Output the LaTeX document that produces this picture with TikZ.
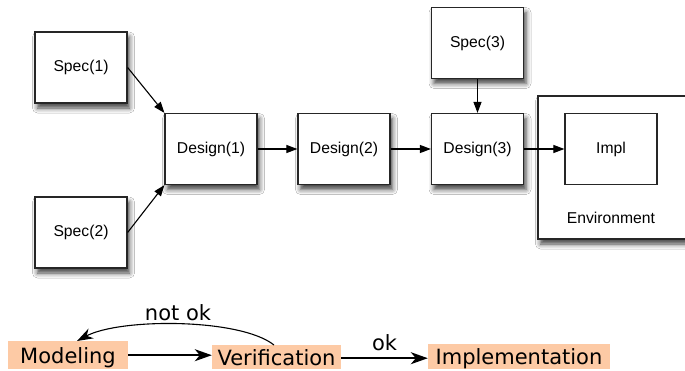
\documentclass[tikz,border=0pt]{standalone}
\usepackage{fontspec}
\setmainfont{Liberation Sans}
\newfontfamily\djv{DejaVu Sans}
\usetikzlibrary{arrows.meta,shadows.blur}
\definecolor{peach}{RGB}{253,202,165}
\tikzset{
  plainbox/.style={draw=black!85, line width=1.2pt, fill=white, minimum width=92pt, minimum height=71pt, inner sep=0pt,
    font=\fontsize{15.7}{18}\selectfont},
  box/.style={plainbox,
    blur shadow={shadow xshift=2.5pt, shadow yshift=-5pt, shadow blur radius=5pt, shadow opacity=75}},
  flow/.style={line width=1.1pt, -{Triangle[length=11pt,width=8pt]}},
  phase/.style={fill=peach, inner sep=0pt, text height=16pt, text depth=0pt, anchor=north, font=\djv\fontsize{21}{24}\selectfont},
  bflow/.style={line width=1.6pt, -{Stealth[length=17pt,width=12pt,inset=5pt]}},
  lbl/.style={font=\djv\fontsize{21}{24}\selectfont, inner sep=0pt}
}
\begin{document}
\begin{tikzpicture}[x=1pt,y=-1pt]
\clip (0,0) rectangle (685,370);
\fill[white] (0,0) rectangle (685,370);
% top diagram
\node[box] (s1) at (81,67.5) {Spec(1)};
\node[box] (s2) at (81,232.5) {Spec(2)};
\node[box] (d1) at (211,149) {Design(1)};
\node[box] (d2) at (344,149) {Design(2)};
\node[box] (d3) at (477.5,149) {Design(3)};
\node[box] (s3) at (477.5,43) {Spec(3)};
\node[box, minimum width=162pt, minimum height=143pt] (env) at (619,167.5) {};
\node[plainbox] (impl) at (611,149) {Impl};
\node[font=\fontsize{15.7}{18}\selectfont, inner sep=0pt] (envl) at (611,218) {Environment};
\draw[flow] (s1.east) -- (d1.north west);
\draw[flow] (s2.east) -- (d1.south west);
\draw[flow] (d1) -- (d2);
\draw[flow] (d2) -- (d3);
\draw[flow] (s3) -- (d3);
\draw[flow] (d3) -- (impl);
% bottom flow
\node[phase, minimum width=120pt, minimum height=28pt] (mod) at (68,341) {Modeling};
\node[phase, minimum width=129pt, minimum height=24pt] (ver) at (276.5,345) {Verification};
\node[phase, minimum width=182pt, minimum height=25pt] (imp) at (519,344) {Implementation};
\draw[bflow] (mod.east) -- ([yshift=2pt]ver.west);
\draw[bflow] ([yshift=-1pt]ver.east) -- node[lbl, above=7pt] (ok) {ok} ([yshift=-1.5pt]imp.west);
\draw[line width=1.1pt, -{Stealth[length=16pt,width=11pt,inset=5pt]}]
  ([xshift=-2.5pt]ver.north) .. controls (240,318) and (120,318) .. ([xshift=9pt]mod.north);
\node[lbl] (nok) at (178,313) {not ok};
\end{tikzpicture}
\end{document}
